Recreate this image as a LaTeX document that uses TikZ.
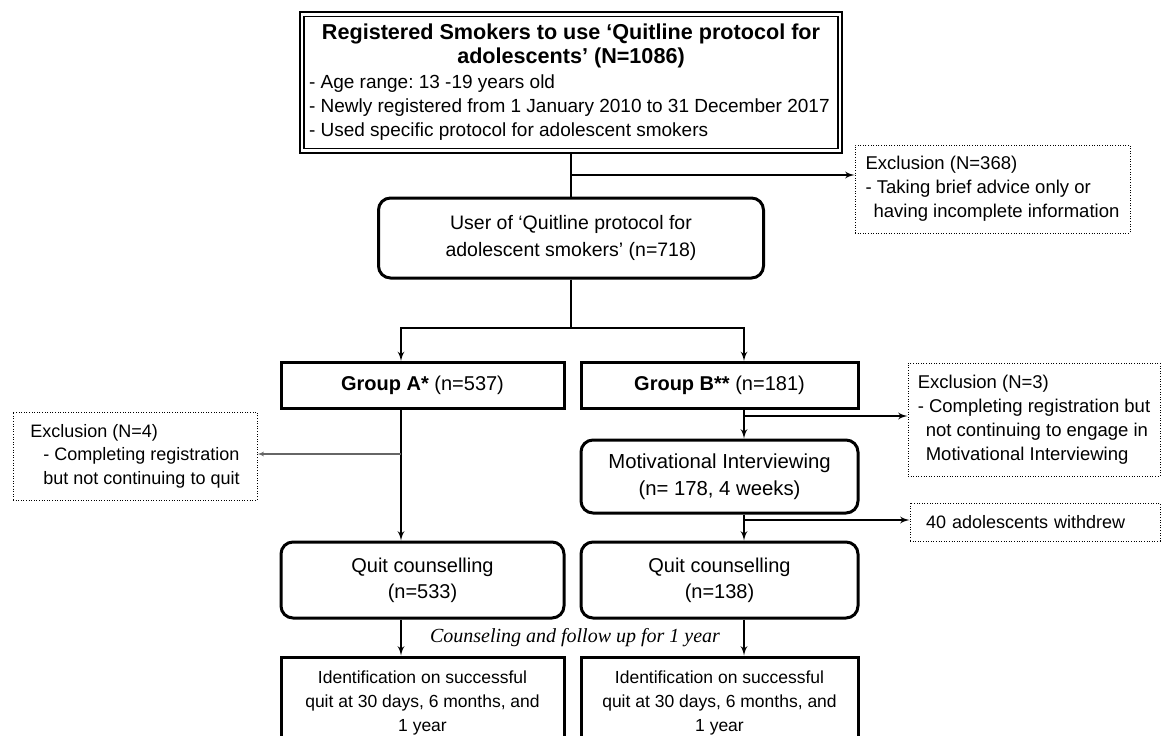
\documentclass[tikz,border=0pt]{standalone}
\usepackage{fontspec}
\setmainfont{Liberation Sans}
\newfontfamily\timesit{Liberation Serif}
\usetikzlibrary{arrows}
\frenchspacing

\begin{document}
\begin{tikzpicture}[x=1pt,y=-1pt,>=latex',
  box/.style={draw,line width=3pt,inner sep=0pt,align=center,font=\fontsize{20}{26}\selectfont},
  rbox/.style={box,rounded corners=12pt},
  excl/.style={draw,line width=1pt,dash pattern=on 1pt off 1.6pt,inner sep=0pt,align=left,font=\fontsize{18.5}{24}\selectfont},
  conn/.style={line width=2.2pt},
  thinconn/.style={line width=1.2pt,black!60}]
\clip (0,0) rectangle (1162,736);

\node[draw,line width=1.4pt,inner sep=0pt,minimum width=534,minimum height=132,align=left,font=\fontsize{19}{24}\selectfont] (reg) at (571,82.5)
  {\makebox[524pt][c]{\fontsize{21.6}{24}\selectfont\bfseries Registered Smokers to use ‘Quitline protocol for}\\
   \makebox[524pt][c]{\fontsize{21.6}{24}\selectfont\bfseries adolescents’ (N=1086)}\\[1pt]
   - Age range: 13 -19 years old\\
   - Newly registered from 1 January 2010 to 31 December 2017\\
   - Used specific protocol for adolescent smokers};
\draw[line width=2.2pt] ([shift={(-3.5,-3.5)}]reg.north west) rectangle ([shift={(3.5,3.5)}]reg.south east);

\node[excl,minimum width=275,minimum height=88] (excl1) at (992.5,189)
  {Exclusion (N=368)\\- Taking brief advice only or\\\hspace*{8pt}having incomplete information};
\node[rbox,minimum width=385,minimum height=80,font=\fontsize{19.5}{27}\selectfont] (user) at (571,238)
  {User of ‘Quitline protocol for\\adolescent smokers’ (n=718)};

\node[box,minimum width=283,minimum height=46] (grpA) at (422.5,385.5) {\textbf{Group A*} (n=537)};
\node[box,minimum width=277,minimum height=46] (grpB) at (719.5,385.5) {\textbf{Group B**} (n=181)};

\node[excl,minimum width=244,minimum height=88,font=\fontsize{18}{23.5}\selectfont] (exclA) at (135,456)
  {Exclusion (N=4)\\\hspace*{13pt}- Completing registration\\\hspace*{13pt}but not continuing to quit};
\node[excl,minimum width=252,minimum height=113] (exclB) at (1034,419.5)
  {Exclusion (N=3)\\- Completing registration but\\\hspace*{8pt}not continuing to engage in\\\hspace*{8pt}Motivational Interviewing};

\node[rbox,minimum width=277,minimum height=73,font=\fontsize{20.3}{27}\selectfont] (mi) at (719.5,476.5)
  {Motivational Interviewing\\(n= 178, 4 weeks)};
\node[excl,minimum width=250,minimum height=38,inner xsep=16pt,text width=218,font=\fontsize{18}{23.5}\selectfont] (wd) at (1035,522) {40 adolescents withdrew};

\node[rbox,minimum width=283,minimum height=76] (quitA) at (422.5,580) {Quit counselling\\(n=533)};
\node[rbox,minimum width=277,minimum height=76] (quitB) at (719.5,580) {Quit counselling\\(n=138)};

\node[font=\timesit\itshape\fontsize{20}{24}\selectfont] (follow) at (575,638) {Counseling and follow up for 1 year};

\node[box,minimum width=283,minimum height=92,font=\fontsize{17.5}{24}\selectfont] (idA) at (422.5,703)
  {Identification on successful\\quit at 30 days, 6 months, and\\1 year};
\node[box,minimum width=277,minimum height=92,font=\fontsize{17.5}{24}\selectfont] (idB) at (719.5,703)
  {Identification on successful\\quit at 30 days, 6 months, and\\1 year};

% branch points
\coordinate (sA) at (401,328);
\coordinate (sB) at (744,328);
\coordinate (b1) at (571,175);
\coordinate (bA) at (401,454);
\coordinate (bB) at (744,416);
\coordinate (bW) at (744,520);

\draw[conn] ([yshift=-3.5pt]reg.south) -- (user.north);
\draw[conn,->] (b1) -- (b1 -| excl1.west);
\draw[conn,->] (user.south) |- (sA) -- (sA |- grpA.north);
\draw[conn,->] (user.south) |- (sB) -- (sB |- grpB.north);

\draw[conn,->] (sA |- grpA.south) -- (sA |- quitA.north);
\draw[thinconn,->] (bA) -- (bA -| exclA.east);

\draw[conn,->] (sB |- grpB.south) -- (sB |- mi.north);
\draw[conn,->] (bB) -- (bB -| exclB.west);
\draw[conn,->] (sB |- mi.south) -- (sB |- quitB.north);
\draw[conn,->] (bW) -- (bW -| wd.west);

\draw[conn,->] (sA |- quitA.south) -- (sA |- idA.north);
\draw[conn,->] (sB |- quitB.south) -- (sB |- idB.north);
\end{tikzpicture}
\end{document}
